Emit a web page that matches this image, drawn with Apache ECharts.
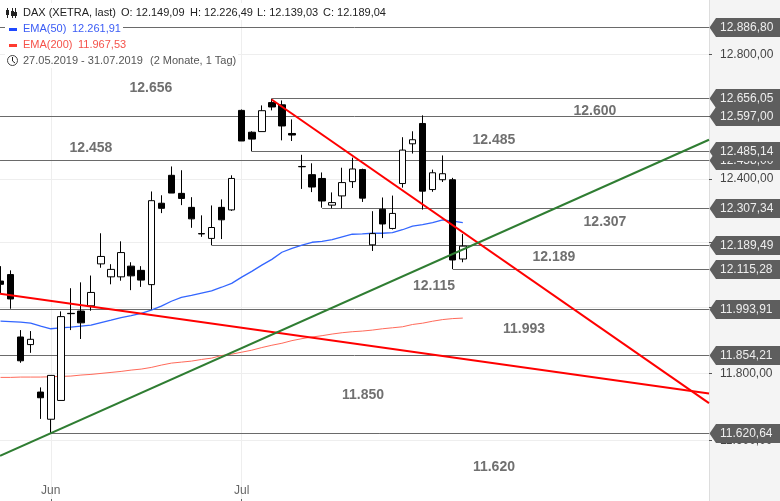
<!DOCTYPE html>
<html>
<head>
<meta charset="utf-8">
<title>DAX (XETRA, last)</title>
<script src="https://cdn.jsdelivr.net/npm/echarts@6/dist/echarts.min.js"></script>
<style>
    html, body {margin: 0; padding: 0; background: #f4f4f4;}
    #main {width: 780px; height: 501px;}
</style>
</head>
<body>
<div id="main"></div>
<script>
// trading days, empty slots on the right keep the chart's free space
var days = [
    '27.05', '28.05', '29.05', '30.05', '31.05',
    '03.06', '04.06', '05.06', '06.06', '07.06',
    '11.06', '12.06', '13.06', '14.06',
    '17.06', '18.06', '19.06', '20.06', '21.06',
    '24.06', '25.06', '26.06', '27.06', '28.06',
    '01.07', '02.07', '03.07', '04.07', '05.07',
    '08.07', '09.07', '10.07', '11.07', '12.07',
    '15.07', '16.07', '17.07', '18.07', '19.07',
    '22.07', '23.07', '24.07', '25.07', '26.07',
    '29.07', '30.07', '31.07'
];

// open, close, low, high
var candles = [
    [12081, 12071, 12044, 12127], [12101, 12026, 11996, 12114], [11910, 11838, 11832, 11931],
    [11887, 11903, 11862, 11928], [11744, 11727, 11664, 11758], [11663, 11794, 11621, 11795],
    [11719, 11972, 11719, 11988], [11982, 11981, 11931, 12059], [11989, 11953, 11904, 12077],
    [12005, 12046, 11990, 12098], [12134, 12157, 12122, 12229], [12094, 12117, 12071, 12133],
    [12094, 12169, 12082, 12204], [12127, 12097, 12053, 12139], [12114, 12084, 12063, 12127],
    [12070, 12331, 11994, 12360], [12323, 12307, 12292, 12348], [12411, 12355, 12355, 12439],
    [12354, 12338, 12317, 12427], [12310, 12274, 12246, 12342], [12228, 12227, 12218, 12285],
    [12213, 12247, 12192, 12316], [12310, 12271, 12211, 12335], [12302, 12401, 12299, 12411],
    [12618, 12520, 12520, 12621], [12548, 12526, 12487, 12551], [12550, 12617, 12550, 12634],
    [12643, 12629, 12618, 12656], [12636, 12568, 12522, 12650], [12544, 12539, 12520, 12589],
    [12439, 12438, 12368, 12476], [12413, 12374, 12358, 12449], [12401, 12330, 12309, 12420],
    [12317, 12325, 12307, 12357], [12346, 12388, 12307, 12435], [12391, 12431, 12371, 12467],
    [12429, 12339, 12327, 12432], [12193, 12228, 12174, 12298], [12304, 12258, 12214, 12341],
    [12244, 12291, 12241, 12347], [12385, 12491, 12372, 12532], [12511, 12524, 12480, 12551],
    [12576, 12361, 12303, 12602], [12366, 12419, 12359, 12429], [12397, 12416, 12390, 12474],
    [12397, 12146, 12118, 12403], [12149.09, 12189.04, 12139.03, 12226.49]
];

var ema50 = [
    11958, 11957, 11955, 11952, 11943, 11935, 11938, 11940, 11943, 11946,
    11954, 11961, 11969, 11975, 11982, 11992, 12004, 12019, 12031, 12037,
    12044, 12051, 12062, 12074, 12093, 12111, 12130, 12148, 12170, 12182,
    12192, 12201, 12204, 12209, 12218, 12226, 12227, 12229, 12229, 12231,
    12240, 12251, 12256, 12262, 12271, 12267, 12261.91
];

var ema200 = [
    11788, 11788, 11789, 11789, 11789, 11790, 11791, 11792, 11795, 11797,
    11800, 11803, 11806, 11810, 11813, 11818, 11825, 11831, 11834, 11837,
    11842, 11846, 11854, 11858, 11864, 11870, 11878, 11885, 11891, 11899,
    11905, 11910, 11914, 11919, 11923, 11926, 11928, 11931, 11935, 11938,
    11941, 11948, 11952, 11958, 11963, 11966, 11967.53
];

// y axis
var priceMin = 11422.5;
var priceMax = 12978;
var tickPrices = [11600, 11800, 12000, 12200, 12400, 12600, 12800];

// x axis, positions are candle numbers
var monthTicks = [5, 24];
var monthNames = ['Jun', 'Jul'];
var xMin = -0.5;
var xMax = 70.5;

// horizontal levels and the candle each one starts at
var levelPrices = [12886.80, 12656.05, 12597.00, 12458.00, 12485.14, 12307.34, 12189.49, 12115.28, 11993.91, 11854.21, 11620.64];
var levelStarts = [-0.05, 27, -0.05, -0.05, 25, 32, 21, 45, -0.05, -0.05, 5];

// trend lines: start candle, start price, end candle, end price
var redFlat = [[-0.05, 12042], [xMax, 11739.5]];
var redSteep = [[26.97, 12653], [xMax, 11711]];
var greenRise = [[-0.05, 11555], [xMax, 12524]];

// grey notes on the chart
var noteTexts = ['12.656', '12.458', '12.600', '12.485', '12.307', '12.189', '12.115', '11.993', '11.850', '11.620'];
var noteCandles = [14.97, 9, 59.15, 49.1, 60.15, 55.07, 43.13, 52.09, 36.07, 49.1];
var notePrices = [12692, 12500, 12618, 12525, 12266, 12157, 12068, 11936, 11737, 11524];

var FONT = '"Liberation Sans", Arial, sans-serif';

/**
 * format price the german way
 *
 * @param  {number} v price
 * @return {string} e.g. 12.886,80
 */
function formatPrice(v) {
    var parts = v.toFixed(2).split('.');
    return parts[0].replace(/\B(?=(\d{3})+$)/g, '.') + ',' + parts[1];
}

function pairs(a, b) {
    var res = [];
    for (var i = 0; i < a.length; ++i) {
        res.push([a[i], b[i]]);
    }
    return res;
}

function indexed(values) {
    var res = [];
    for (var i = 0; i < values.length; ++i) {
        res.push([i, values[i]]);
    }
    return res;
}

function lineSeries(data, color, width, z) {
    return {
        type: 'line',
        xAxisIndex: 1,
        data: data,
        showSymbol: false,
        symbol: 'none',
        silent: true,
        clip: false,
        z: z,
        lineStyle: {color: color, width: width}
    };
}

function customSeries(data, renderItem, z) {
    return {
        type: 'custom',
        xAxisIndex: 1,
        data: data,
        renderItem: renderItem,
        clip: false,
        silent: true,
        z: z
    };
}

// level lines are snapped to a pixel row so they stay crisp
function renderLevel(params, api) {
    var from = api.coord([api.value(0), api.value(1)]);
    var to = api.coord([xMax, api.value(1)]);
    var y = Math.floor(from[1]) + 0.5;
    return {
        type: 'line',
        shape: {x1: from[0], y1: y, x2: to[0], y2: y},
        style: {stroke: '#6a6a6a', lineWidth: 1}
    };
}

function renderTag(params, api) {
    var price = api.value(1);
    var p = api.coord([xMax, price]);
    var y = Math.floor(p[1]) + 0.5;
    return {
        type: 'group',
        children: [{
            type: 'polygon',
            shape: {
                points: [[p[0] + 0.5, y], [p[0] + 7, y - 9.5], [780, y - 9.5], [780, y + 9.5], [p[0] + 7, y + 9.5]]
            },
            style: {fill: '#5e5e5e'}
        }, {
            type: 'text',
            x: 720,
            y: y + 0.5,
            style: {
                text: formatPrice(price),
                fill: '#eeeeee',
                font: '12px ' + FONT,
                align: 'left',
                verticalAlign: 'middle'
            }
        }]
    };
}

function renderNote(params, api) {
    var p = api.coord([api.value(0), api.value(1)]);
    return {
        type: 'text',
        x: p[0],
        y: p[1] + 0.5,
        style: {
            text: noteTexts[params.dataIndex],
            fill: '#707070',
            font: 'bold 14px ' + FONT,
            align: 'center',
            verticalAlign: 'middle'
        }
    };
}

function legendText(x, y, text, color) {
    return {
        type: 'text',
        x: x,
        y: y,
        z: 101,
        style: {
            text: text,
            fill: color,
            font: '11px ' + FONT,
            align: 'left',
            verticalAlign: 'middle'
        }
    };
}

function legendBack(x, y, w, h) {
    return {
        type: 'rect',
        z: 100,
        shape: {x: x, y: y, width: w, height: h},
        style: {fill: '#ffffff'}
    };
}

function legendBar(x, y, w, h, color) {
    return {
        type: 'rect',
        z: 101,
        shape: {x: x, y: y, width: w, height: h},
        style: {fill: color}
    };
}

function legendStroke(x1, y1, x2, y2) {
    return {
        type: 'line',
        z: 101,
        shape: {x1: x1, y1: y1, x2: x2, y2: y2},
        style: {stroke: '#222222', lineWidth: 1}
    };
}

var series = [];

series.push(customSeries(pairs(levelStarts, levelPrices), renderLevel, 2));

series.push(lineSeries(indexed(ema200), '#ff6a5a', 1, 3));
series.push(lineSeries(indexed(ema50), '#3366ff', 1.3, 3));

series.push({
    type: 'candlestick',
    data: candles,
    barWidth: 7,
    clip: false,
    silent: true,
    z: 4,
    itemStyle: {
        color: '#ffffff',
        color0: '#000000',
        borderColor: '#000000',
        borderColor0: '#000000',
        borderWidth: 1
    }
});

series.push(lineSeries(redFlat, '#ff0000', 2, 5));
series.push(lineSeries(redSteep, '#ff0000', 2, 5));
series.push(lineSeries(greenRise, '#2f7d32', 2, 5));

series.push(customSeries(pairs(noteCandles, notePrices), renderNote, 6));
series.push(customSeries(indexed(levelPrices), renderTag, 7));

var chart = echarts.init(document.getElementById('main'));

chart.setOption({
    animation: false,
    backgroundColor: '#f4f4f4',
    textStyle: {fontFamily: FONT},
    grid: {
        left: -4.5,
        right: 71,
        top: 0,
        bottom: 0,
        outerBoundsMode: 'none',
        show: true,
        backgroundColor: '#ffffff',
        borderWidth: 0
    },
    xAxis: [{
        type: 'category',
        data: days.concat(new Array(71 - days.length).join(' ').split(' ')),
        boundaryGap: true,
        show: false
    }, {
        type: 'value',
        min: xMin,
        max: xMax,
        position: 'bottom',
        axisLine: {show: false, onZero: false},
        axisTick: {
            inside: true,
            length: 2,
            customValues: monthTicks,
            lineStyle: {color: '#666666'}
        },
        splitLine: {show: true, lineStyle: {color: '#eeeeee', width: 1}},
        axisLabel: {
            inside: true,
            margin: 4,
            customValues: monthTicks,
            color: '#666666',
            fontSize: 12,
            fontFamily: FONT,
            formatter: function (v) {
                return monthNames[monthTicks.indexOf(v)];
            }
        }
    }],
    yAxis: {
        type: 'log',
        min: priceMin,
        max: priceMax,
        position: 'right',
        axisLine: {show: true, onZero: false, lineStyle: {color: '#dddddd', width: 1}},
        axisTick: {
            length: 3,
            customValues: tickPrices,
            lineStyle: {color: '#555555'}
        },
        splitLine: {show: true, lineStyle: {color: '#eeeeee', width: 1}},
        minorTick: {show: false},
        minorSplitLine: {show: false},
        axisLabel: {
            margin: 11,
            customValues: tickPrices,
            color: '#444444',
            fontSize: 12,
            fontFamily: FONT,
            formatter: function (v) {
                return formatPrice(v);
            }
        }
    },
    series: series,
    graphic: [
        legendBack(5, 3, 384, 17),
        legendBack(5, 20, 118, 48),
        legendBack(123, 52, 115, 16),
        // candle icon
        legendStroke(7.5, 8, 7.5, 18),
        legendStroke(12.5, 8, 12.5, 18),
        legendStroke(15.5, 8, 15.5, 18),
        legendBar(6, 10, 3, 5, '#222222'),
        legendBar(11, 11, 3, 5, '#222222'),
        legendBar(14, 12, 3, 4, '#222222'),
        legendText(23, 13, 'DAX (XETRA, last)', '#222222'),
        legendText(121, 13, 'O: ' + formatPrice(12149.09), '#222222'),
        legendText(190, 13, 'H: ' + formatPrice(12226.49), '#222222'),
        legendText(257, 13, 'L: ' + formatPrice(12139.03), '#222222'),
        legendText(323, 13, 'C: ' + formatPrice(12189.04), '#222222'),
        legendBar(9, 28, 8, 3, '#1f49ff'),
        legendText(23, 29, 'EMA(50)', '#3b5cf5'),
        legendText(72, 29, formatPrice(12261.91), '#3b5cf5'),
        legendBar(9, 44, 8, 3, '#ff3b30'),
        legendText(23, 45, 'EMA(200)', '#f5524a'),
        legendText(78, 45, formatPrice(11967.53), '#f5524a'),
        // clock icon
        {
            type: 'circle',
            z: 101,
            shape: {cx: 12.5, cy: 60.5, r: 5},
            style: {fill: 'none', stroke: '#444444', lineWidth: 1}
        },
        legendStroke(12.5, 57, 12.5, 61),
        legendStroke(12.5, 61, 15, 63),
        legendText(23, 61, '27.05.2019 - 31.07.2019', '#555555'),
        legendText(150, 61, '(2 Monate, 1 Tag)', '#555555')
    ]
});
</script>
</body>
</html>
